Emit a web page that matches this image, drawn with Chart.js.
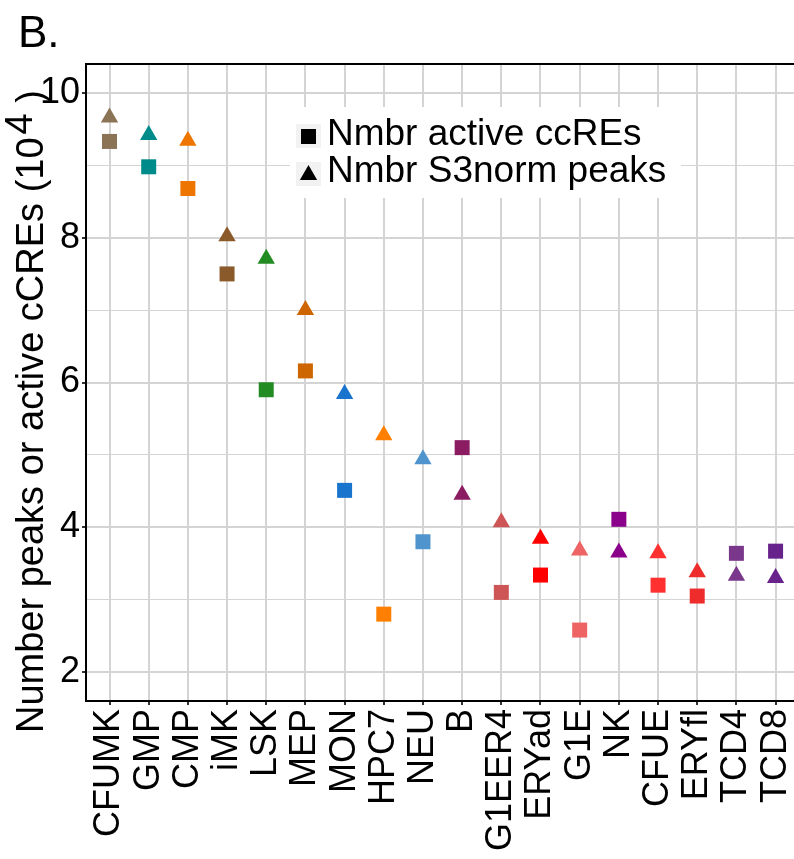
<!DOCTYPE html>
<html lang="en">
<head>
    <meta charset="UTF-8">
    <title>Peaks vs active ccREs</title>
    <script src="https://cdn.jsdelivr.net/npm/chart.js"></script>
    <style>
        html, body {
            margin: 0;
            padding: 0;
            overflow: hidden;
            background: #fff;
        }
        canvas {
            display: block;
        }
    </style>
</head>
<body>
    <canvas id="chart" width="794" height="859"></canvas>

    <script>
        const categories = ['CFUMK', 'GMP', 'CMP', 'iMK', 'LSK', 'MEP', 'MON', 'HPC7', 'NEU', 'B',
            'G1EER4', 'ERYad', 'G1E', 'NK', 'CFUE', 'ERYfl', 'TCD4', 'TCD8'];

        // values in units of 10^4
        const activeCcres = [9.33, 8.98, 8.68, 7.50, 5.90, 6.16, 4.51, 2.80, 3.80, 5.10,
            3.10, 3.34, 2.58, 4.11, 3.20, 3.05, 3.64, 3.67];
        const s3normPeaks = [9.66, 9.42, 9.34, 8.02, 7.71, 7.00, 5.84, 5.27, 4.94, 4.45,
            4.07, 3.84, 3.68, 3.65, 3.64, 3.38, 3.33, 3.30];

        const cellColors = ['#8B7355', '#008B8B', '#EE7600', '#8B5A2B', '#228B22', '#CD6600',
            '#1874CD', '#FF7F00', '#4F94CD', '#8B1C62', '#CD5555', '#FF0000', '#EE6363',
            '#8B008B', '#FF3030', '#EE2C2C', '#7A378B', '#68228B'];

        const yTicks = [2, 3, 4, 5, 6, 7, 8, 9, 10];
        const legendLabels = ['Nmbr active ccREs', 'Nmbr S3norm peaks'];

        const FONT = '"Liberation Sans", Arial, sans-serif';
        const GRID = '#d4d4d4';
        const isMajor = v => v % 2 === 0;

        // title, y axis title, panel border and legend
        const decor = {
            id: 'decor',
            afterDraw(chart) {
                const ctx = chart.ctx;
                const a = chart.chartArea;
                ctx.save();

                // panel border (the right side is cut off by the picture edge)
                ctx.strokeStyle = '#000';
                ctx.lineWidth = 2;
                ctx.beginPath();
                ctx.moveTo(a.right + 2, a.top);
                ctx.lineTo(a.left, a.top);
                ctx.lineTo(a.left, a.bottom);
                ctx.lineTo(a.right + 2, a.bottom);
                ctx.stroke();

                // panel tag
                ctx.fillStyle = '#000';
                ctx.font = '44px ' + FONT;
                ctx.textBaseline = 'alphabetic';
                ctx.textAlign = 'left';
                ctx.fillText('B.', 18, 47);

                // y axis title with superscript
                ctx.save();
                ctx.translate(43, 733);
                ctx.rotate(-Math.PI / 2);
                ctx.font = '38px ' + FONT;
                const s1 = 'Number peaks or active cCREs (10';
                ctx.fillText(s1, 0, 0);
                let w = ctx.measureText(s1).width + 3;
                ctx.fillText('4', w, -11);
                w += ctx.measureText('4').width;
                ctx.fillText(' )', w, 0);
                ctx.restore();

                // legend
                ctx.fillStyle = '#fff';
                ctx.fillRect(290, 107, 391, 91);
                ctx.fillStyle = '#f2f2f2';
                ctx.fillRect(296, 124, 25, 24);
                ctx.fillRect(296, 162, 25, 24);
                ctx.fillStyle = '#000';
                Chart.helpers.drawPoint(ctx, { pointStyle: 'rect', radius: 10.6, borderWidth: 0, rotation: 0 }, 308.5, 136.5);
                Chart.helpers.drawPoint(ctx, { pointStyle: 'triangle', radius: 10, borderWidth: 0, rotation: 0 }, 308.5, 175);
                ctx.font = '37px ' + FONT;
                ctx.fillText(legendLabels[0], 327, 145);
                ctx.fillText(legendLabels[1], 327, 182);

                ctx.restore();
            }
        };

        const toPoints = arr => arr.map((v, i) => ({ x: i, y: v }));

        new Chart(document.getElementById('chart'), {
            type: 'scatter',
            data: {
                datasets: [
                    {
                        label: legendLabels[0],
                        data: toPoints(activeCcres),
                        pointStyle: 'rect',
                        pointRadius: 10.6,
                        pointBorderWidth: 0,
                        backgroundColor: cellColors,
                        borderColor: cellColors
                    },
                    {
                        label: legendLabels[1],
                        data: toPoints(s3normPeaks),
                        pointStyle: 'triangle',
                        pointRadius: 10,
                        pointBorderWidth: 0,
                        backgroundColor: cellColors,
                        borderColor: cellColors
                    }
                ]
            },
            options: {
                responsive: false,
                animation: false,
                devicePixelRatio: 1,
                layout: {
                    autoPadding: false,
                    padding: { left: 0, top: 64, right: 0, bottom: 0 }
                },
                plugins: {
                    legend: { display: false },
                    tooltip: { enabled: false }
                },
                scales: {
                    x: {
                        type: 'linear',
                        min: -0.6,
                        max: 17.47,
                        afterBuildTicks: s => { s.ticks = categories.map((c, i) => ({ value: i })); },
                        afterFit: s => {
                            s.height = 158;
                            s.paddingLeft = 0;
                            s.paddingRight = 0;
                        },
                        ticks: {
                            autoSkip: false,
                            minRotation: 90,
                            maxRotation: 90,
                            padding: 4,
                            color: '#000',
                            font: { family: FONT, size: 36 },
                            callback: v => categories[v] ?? ''
                        },
                        grid: {
                            color: GRID,
                            lineWidth: 2,
                            tickColor: '#333',
                            tickLength: 4,
                            tickWidth: 2
                        },
                        border: { display: false }
                    },
                    y: {
                        min: 1.6,
                        max: 10.4,
                        afterBuildTicks: s => { s.ticks = yTicks.map(v => ({ value: v })); },
                        afterFit: s => {
                            s.width = 86;
                            s.paddingTop = 0;
                            s.paddingBottom = 0;
                        },
                        ticks: {
                            padding: 2,
                            color: '#000',
                            font: { family: FONT, size: 36 },
                            callback: v => isMajor(v) ? String(v) : ''
                        },
                        grid: {
                            color: GRID,
                            lineWidth: ctx => ctx.tick && isMajor(ctx.tick.value) ? 2 : 1,
                            tickColor: ctx => ctx.tick && isMajor(ctx.tick.value) ? '#333' : 'rgba(0,0,0,0)',
                            tickLength: 4,
                            tickWidth: 2
                        },
                        border: { display: false }
                    }
                }
            },
            plugins: [decor]
        });
    </script>
</body>
</html>
